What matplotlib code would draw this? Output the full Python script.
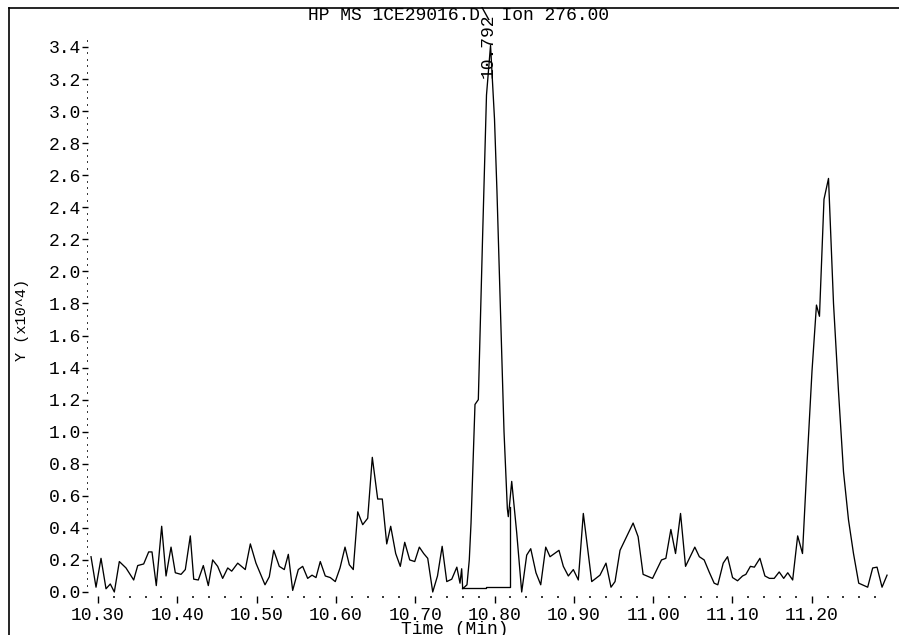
import matplotlib
matplotlib.use("Agg")
import matplotlib.pyplot as plt
from matplotlib.lines import Line2D
from matplotlib.ticker import FixedLocator, FormatStrFormatter

# ---- data (Time in min, abundance in units of 1e4) ----
time = [10.2912, 10.2975, 10.3038, 10.3101, 10.3155, 10.3206, 10.3269, 10.3353, 10.3450, 10.3501,
        10.3576, 10.3639, 10.3681, 10.3735, 10.3803, 10.3858, 10.3921, 10.3975, 10.4047, 10.4101,
        10.4164, 10.4207, 10.4265, 10.4328, 10.4391, 10.4446, 10.4509, 10.4572, 10.4636, 10.4686,
        10.4762, 10.4857, 10.4921, 10.4992, 10.5106, 10.5160, 10.5216, 10.5286, 10.5349, 10.5400,
        10.5455, 10.5526, 10.5581, 10.5644, 10.5699, 10.5749, 10.5803, 10.5866, 10.5929, 10.5992,
        10.6052, 10.6115, 10.6169, 10.6219, 10.6275, 10.6338, 10.6401, 10.6459, 10.6527, 10.6585,
        10.6641, 10.6691, 10.6754, 10.6812, 10.6868, 10.6931, 10.6994, 10.7052, 10.7107, 10.7158,
        10.7221, 10.7281, 10.7340, 10.7398, 10.7461, 10.7525, 10.7565, 10.7586, 10.7599, 10.7653,
        10.7682, 10.7704, 10.7754, 10.7796, 10.7849, 10.7899, 10.7950, 10.8000, 10.8031, 10.8076,
        10.8120, 10.8162, 10.8174, 10.8187, 10.8217, 10.8280, 10.8343, 10.8406, 10.8457, 10.8523,
        10.8583, 10.8646, 10.8700, 10.8813, 10.8868, 10.8931, 10.8994, 10.9057, 10.9120, 10.9226,
        10.9330, 10.9406, 10.9469, 10.9520, 10.9583, 10.9748, 10.9811, 10.9874, 10.9993, 11.0106,
        11.0161, 11.0224, 11.0283, 11.0346, 11.0409, 11.0526, 11.0583, 11.0644, 11.0707, 11.0770,
        11.0816, 11.0884, 11.0939, 11.1002, 11.1065, 11.1128, 11.1170, 11.1227, 11.1277, 11.1347,
        11.1410, 11.1467, 11.1527, 11.1590, 11.1647, 11.1698, 11.1760, 11.1823, 11.1884, 11.1941,
        11.2004, 11.2060, 11.2098, 11.2155, 11.2212, 11.2275, 11.2338, 11.2401, 11.2464, 11.2527,
        11.2593, 11.2706, 11.2769, 11.2824, 11.2887, 11.2950]
abundance = [0.22, 0.03, 0.21, 0.02, 0.05, 0.00, 0.19, 0.15, 0.075, 0.165,
             0.175, 0.25, 0.25, 0.04, 0.41, 0.10, 0.28, 0.12, 0.11, 0.14,
             0.35, 0.08, 0.075, 0.165, 0.04, 0.20, 0.16, 0.085, 0.15, 0.13,
             0.18, 0.14, 0.30, 0.18, 0.045, 0.095, 0.26, 0.16, 0.14, 0.235,
             0.01, 0.14, 0.16, 0.085, 0.105, 0.09, 0.19, 0.10, 0.09, 0.065,
             0.15, 0.28, 0.17, 0.14, 0.50, 0.42, 0.46, 0.84, 0.58, 0.58,
             0.30, 0.41, 0.24, 0.16, 0.31, 0.20, 0.19, 0.28, 0.24, 0.21,
             0.00, 0.10, 0.285, 0.065, 0.08, 0.155, 0.055, 0.145, 0.02, 0.045,
             0.20, 0.43, 1.17, 1.20, 2.20, 3.10, 3.41, 2.95, 2.50, 1.75,
             1.00, 0.52, 0.47, 0.53, 0.69, 0.37, 0.00, 0.23, 0.27, 0.12,
             0.045, 0.28, 0.22, 0.26, 0.16, 0.10, 0.14, 0.075, 0.49, 0.065,
             0.105, 0.18, 0.03, 0.065, 0.26, 0.43, 0.345, 0.11, 0.085, 0.20,
             0.21, 0.39, 0.24, 0.49, 0.16, 0.28, 0.22, 0.20, 0.125, 0.055,
             0.045, 0.18, 0.22, 0.09, 0.07, 0.10, 0.11, 0.16, 0.155, 0.21,
             0.10, 0.085, 0.085, 0.125, 0.085, 0.12, 0.075, 0.35, 0.24, 0.80,
             1.38, 1.79, 1.72, 2.45, 2.58, 1.80, 1.25, 0.75, 0.45, 0.24,
             0.055, 0.03, 0.15, 0.155, 0.03, 0.105]

# integration baseline of the labelled peak
base_t = [10.7586, 10.7889, 10.7889, 10.8191, 10.8191]
base_y = [0.023, 0.023, 0.029, 0.029, 0.53]

# axis ticks
x_major = [10.30, 10.40, 10.50, 10.60, 10.70, 10.80, 10.90, 11.00, 11.10, 11.20]
x_minor = [10.30 + 0.02 * i for i in range(50)]
y_major = [0.2 * i for i in range(18)]
y_minor = [0.04 * i for i in range(87)]

peak_label = "10.792"
peak_t = 10.7918
title = "HP MS 1CE29016.D\\ Ion 276.00"
xlabel = "Time (Min)"
ylabel = "Y (x10^4)"

W, H = 899, 635
fig = plt.figure(figsize=(W / 100, H / 100), dpi=100)
font = "Liberation Mono"

# axes placed in pixel coordinates
L, R, T, B = 88, 890, 20, 596
ax = fig.add_axes([L / W, 1 - B / H, (R - L) / W, (B - T) / H])

px_per_min = 793.0
px_per_unit = 160.3
x0 = 10.30 - (98 - L) / px_per_min
x1 = 10.30 + (R - 98) / px_per_min
y0 = -(B - 592) / px_per_unit
y1 = (592 - T) / px_per_unit
ax.set_xlim(x0, x1)
ax.set_ylim(y0, y1)

ax.plot(time, abundance, color="black", lw=0.95)
ax.plot(base_t, base_y, color="black", lw=0.95)

for s in ax.spines.values():
    s.set_visible(False)

ax.xaxis.set_major_locator(FixedLocator(x_major))
ax.xaxis.set_minor_locator(FixedLocator([v for v in x_minor if v < x1]))
ax.yaxis.set_major_locator(FixedLocator(y_major))
ax.yaxis.set_minor_locator(FixedLocator(y_minor))
ax.xaxis.set_major_formatter(FormatStrFormatter("%.2f"))
ax.yaxis.set_major_formatter(FormatStrFormatter("%.1f"))

ax.tick_params(axis="x", which="major", direction="out", length=5, width=1, pad=3,
               labelsize=13, colors="black")
ax.tick_params(axis="x", which="minor", direction="out", length=1.3, width=1.1)
ax.tick_params(axis="y", which="major", direction="out", length=4.2, width=1, pad=1,
               labelsize=13, colors="black")
ax.tick_params(axis="y", which="minor", direction="out", length=1.0, width=1.1)
for lab in ax.get_xticklabels() + ax.get_yticklabels():
    lab.set_fontfamily(font)

# peak label (rotated)
ax.text(peak_t, (592 - 78) / px_per_unit, peak_label, rotation=90, ha="center", va="bottom",
        fontsize=13, family=font, color="black")

# title and axis labels in figure pixel coordinates
fig.text(459 / W, 1 - 16 / H, title, ha="center", va="center", fontsize=13, family=font)
fig.text(455 / W, 1 - 630 / H, xlabel, ha="center", va="center", fontsize=13, family=font)
fig.text(22 / W, 1 - 320 / H, ylabel, ha="center", va="center", rotation=90, fontsize=11,
         family=font)

# outer frame lines
fig.add_artist(Line2D([9 / W, 9 / W], [0, 1 - 8 / H], color="black", lw=1.2,
                      transform=fig.transFigure))
fig.add_artist(Line2D([9 / W, 1], [1 - 8 / H, 1 - 8 / H], color="black", lw=1.2,
                      transform=fig.transFigure))

fig.savefig("out.png", dpi=100)
